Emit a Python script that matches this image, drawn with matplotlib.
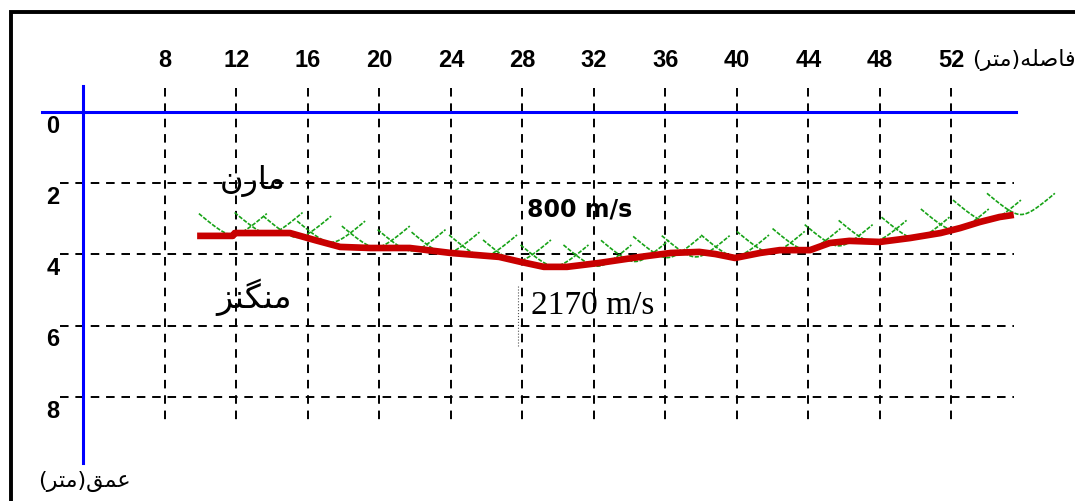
import numpy as np
import matplotlib
matplotlib.use("Agg")
import matplotlib.pyplot as plt
from matplotlib.patches import Rectangle

# distance (m) along the profile and depth (m)
dist_ticks = [8, 12, 16, 20, 24, 28, 32, 36, 40, 44, 48, 52]
depth_ticks = [0, 2, 4, 6, 8]

# refractor (marl / manganese boundary) picked along the line
boundary_x = [9.8, 11.8, 11.9, 15.0, 16.4, 17.8, 19.5, 21.7, 24.0, 26.7, 27.9,
              29.2, 30.5, 32.3, 34.6, 36.3, 37.9, 38.8, 39.9, 41.3, 42.4, 44.1,
              45.2, 46.3, 48.0, 49.7, 51.4, 52.5, 53.6, 54.7, 55.5]
boundary_depth = [3.48, 3.48, 3.40, 3.40, 3.60, 3.79, 3.82, 3.82, 3.96, 4.07,
                  4.21, 4.35, 4.35, 4.24, 4.07, 3.96, 3.93, 3.99, 4.10, 3.96,
                  3.88, 3.88, 3.68, 3.62, 3.65, 3.54, 3.40, 3.26, 3.09, 2.95,
                  2.89]

# wavefront arcs: x of the lowest point and its depth
arc_x = [11.8, 13.8, 15.4, 17.3, 19.8, 21.8, 23.7, 25.8, 27.7, 29.8, 32.2,
         34.3, 36.1, 37.7, 39.9, 41.9, 43.9, 45.7, 47.6, 50.0, 52.2, 54.0,
         55.9]
arc_depth = [3.45, 3.42, 3.52, 3.66, 3.80, 3.90, 3.97, 4.05, 4.19, 4.33, 4.33,
             4.20, 4.09, 4.07, 4.05, 3.95, 3.87, 3.76, 3.64, 3.55, 3.32, 3.07,
             2.88]

upper_velocity = "800 m/s"
lower_velocity = "2170 m/s"

# presentation forms: isolated, final, initial, medial
FORMS = {
    "ا": ("\uFE8D", "\uFE8E", None, None),
    "ر": ("\uFEAD", "\uFEAE", None, None),
    "ز": ("\uFEAF", "\uFEB0", None, None),
    "ت": ("\uFE95", "\uFE96", "\uFE97", "\uFE98"),
    "ص": ("\uFEB9", "\uFEBA", "\uFEBB", "\uFEBC"),
    "ع": ("\uFEC9", "\uFECA", "\uFECB", "\uFECC"),
    "ف": ("\uFED1", "\uFED2", "\uFED3", "\uFED4"),
    "ق": ("\uFED5", "\uFED6", "\uFED7", "\uFED8"),
    "ل": ("\uFEDD", "\uFEDE", "\uFEDF", "\uFEE0"),
    "م": ("\uFEE1", "\uFEE2", "\uFEE3", "\uFEE4"),
    "ن": ("\uFEE5", "\uFEE6", "\uFEE7", "\uFEE8"),
    "ه": ("\uFEE9", "\uFEEA", "\uFEEB", "\uFEEC"),
    "گ": ("\uFB92", "\uFB93", "\uFB94", "\uFB95"),
}


def persian(text):
    # join letters and lay them out right to left
    out = []
    for i, ch in enumerate(text):
        if ch not in FORMS:
            out.append(ch)
            continue
        iso, fin, ini, med = FORMS[ch]
        prev = text[i - 1] if i > 0 else ""
        nxt = text[i + 1] if i + 1 < len(text) else ""
        join_prev = prev in FORMS and FORMS[prev][2] is not None
        join_next = ini is not None and nxt in FORMS
        if join_prev and join_next:
            out.append(med)
        elif join_prev:
            out.append(fin)
        elif join_next:
            out.append(ini)
        else:
            out.append(iso)
    mirror = {"(": ")", ")": "("}
    return "".join(mirror.get(c, c) for c in reversed(out))


W, H = 1075, 501
fig = plt.figure(figsize=(W / 100, H / 100), dpi=100)
ax = fig.add_axes([0, 0, 1, 1])
ax.axis("off")

# 17.87 px per metre along x, 35.6 px per metre in depth
ax.set_xlim(-22 / 17.87, (W - 22) / 17.87)
ax.set_ylim((H - 112) / 35.6, -112 / 35.6)

grid_kw = dict(color="black", lw=1.4, linestyle=(0, (4.4, 3.5)), zorder=1)
for x in dist_ticks:
    ax.plot([x, x], [-0.67, 8.75], **grid_kw)
    ax.text(x, -1.46, str(x), ha="center", va="center", fontsize=17,
            fontweight="bold", family="Liberation Sans")
for d in depth_ticks[1:]:
    ax.plot([2.13, 55.5], [d, d], **grid_kw)
for d in depth_ticks:
    ax.text(1.73, d + 0.4, str(d), ha="center", va="center", fontsize=17,
            fontweight="bold", family="Liberation Sans")

# surface and depth axis
ax.plot([1.1, 55.6], [0, 0], color="#0000ff", lw=2.2, zorder=2)
ax.plot([3.41, 3.41], [-0.73, 9.86], color="#0000ff", lw=2.2, zorder=2)

ax.plot(boundary_x, boundary_depth, color="#c80000", lw=4.8,
        solid_capstyle="butt", zorder=4)

# V-shaped wavefronts with a rounded bottom
dx = np.linspace(-1.9, 1.9, 41)
rise = 0.45 * (np.sqrt(dx ** 2 + 0.49) - 0.7)
for xc, dc in zip(arc_x, arc_depth):
    ax.plot(xc + dx, dc - rise, color="#17a317", lw=1.2,
            linestyle=(0, (2.5, 0.9)), zorder=3)

ax.text(31.2, 2.75, upper_velocity, ha="center", va="center", fontsize=17,
        fontweight="bold", family="DejaVu Sans")
ax.text(31.95, 5.45, lower_velocity, ha="center", va="center", fontsize=24,
        family="Liberation Serif")
ax.plot([27.75, 27.75], [4.9, 6.6], color="#555555", lw=0.8, linestyle=":",
        zorder=2)

ax.text(12.93, 1.95, persian("مارن"), ha="center", va="center", fontsize=23,
        family="DejaVu Sans")
ax.text(13.0, 5.2, persian("منگنز"), ha="center", va="center", fontsize=24,
        family="DejaVu Sans")
ax.text(53.16, -1.46, persian("فاصله(متر)"), ha="left", va="center",
        fontsize=16, family="DejaVu Sans")
ax.text(0.9, 10.39, persian("عمق(متر)"), ha="left", va="center",
        fontsize=16, family="DejaVu Sans")

fig.patches.append(Rectangle((10.5 / W, -0.05), 1.1, 1.05 - 11.7 / H,
                             transform=fig.transFigure, fill=False,
                             ec="black", lw=2.8))

fig.savefig("out.png", dpi=100)
